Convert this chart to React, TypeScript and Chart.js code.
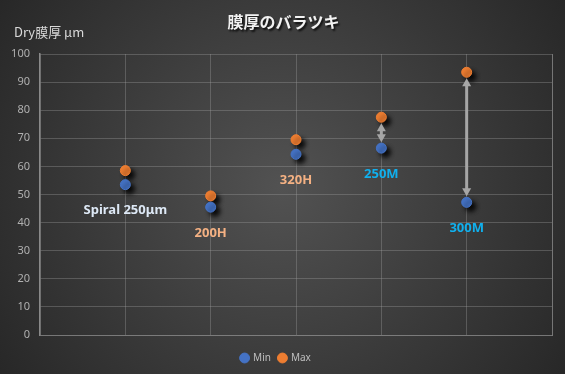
import React, { useEffect, useRef } from "react";
import { Chart, registerables } from "chart.js";

Chart.register(...registerables);

const xPositions = [1, 2, 3, 4, 5];
const minValues = [53.5, 45.5, 64.3, 66.5, 47.2];
const maxValues = [58.5, 49.5, 69.5, 77.5, 93.5];
const pointLabels = ["Spiral 250μm", "200H", "320H", "250M", "300M"];
const labelColors = ["#dde8f5", "#f4b183", "#f4b183", "#10b0ee", "#10b0ee"];
const arrowIndices = [3, 4];
const yTicks = [0, 10, 20, 30, 40, 50, 60, 70, 80, 90, 100];
const chartTitle = "膜厚のバラツキ";
const yAxisTitle = "Dry膜厚 μm";

const bgPlugin = {
  id: "bg",
  beforeDraw(chart: any) {
    const { ctx, width, height } = chart;
    ctx.save();
    const g = ctx.createRadialGradient(width * 0.5, height * 0.5, 0, width * 0.5, height * 0.5, width * 0.62);
    g.addColorStop(0, "#525252");
    g.addColorStop(1, "#262626");
    ctx.fillStyle = g;
    ctx.fillRect(0, 0, width, height);
    // title
    ctx.font = "bold 16px 'Noto Sans CJK JP'";
    ctx.textAlign = "center";
    ctx.textBaseline = "middle";
    ctx.shadowColor = "rgba(0,0,0,0.8)";
    ctx.shadowOffsetX = 1.5;
    ctx.shadowOffsetY = 1.5;
    ctx.shadowBlur = 2;
    ctx.fillStyle = "#f2f2f2";
    ctx.fillText(chartTitle, width / 2 + 1, 22);
    ctx.shadowColor = "transparent";
    ctx.font = "13px 'Noto Sans CJK JP'";
    ctx.textAlign = "left";
    ctx.fillStyle = "#d9d9d9";
    ctx.fillText(yAxisTitle, 14, 32);
    ctx.restore();
  },
};

const shadowPlugin = {
  id: "ptshadow",
  beforeDatasetDraw(chart: any) {
    const ctx = chart.ctx;
    ctx.save();
    ctx.shadowColor = "rgba(0,0,0,0.85)";
    ctx.shadowOffsetX = 4;
    ctx.shadowOffsetY = 4;
    ctx.shadowBlur = 4;
  },
  afterDatasetDraw(chart: any) {
    chart.ctx.restore();
  },
};

const overlayPlugin = {
  id: "overlay",
  afterDatasetsDraw(chart: any) {
    const { ctx } = chart;
    const xs = chart.scales.x;
    const ys = chart.scales.y;
    ctx.save();
    // arrows
    arrowIndices.forEach((i) => {
      const x = xs.getPixelForValue(xPositions[i]);
      const yTop = ys.getPixelForValue(maxValues[i]) + 6;
      const yBot = ys.getPixelForValue(minValues[i]) - 6;
      const head = 8;
      ctx.strokeStyle = "#a6a6a6";
      ctx.fillStyle = "#a6a6a6";
      ctx.lineWidth = 3;
      ctx.beginPath();
      ctx.moveTo(x, yTop + head - 1);
      ctx.lineTo(x, yBot - head + 1);
      ctx.stroke();
      ctx.beginPath();
      ctx.moveTo(x, yTop);
      ctx.lineTo(x - 4.5, yTop + head);
      ctx.lineTo(x + 4.5, yTop + head);
      ctx.closePath();
      ctx.fill();
      ctx.beginPath();
      ctx.moveTo(x, yBot);
      ctx.lineTo(x - 4.5, yBot - head);
      ctx.lineTo(x + 4.5, yBot - head);
      ctx.closePath();
      ctx.fill();
    });
    // labels
    ctx.font = "bold 13px 'Noto Sans'";
    ctx.textAlign = "center";
    ctx.textBaseline = "middle";
    pointLabels.forEach((t, i) => {
      const x = xs.getPixelForValue(xPositions[i]);
      const y = ys.getPixelForValue(minValues[i]) + 26;
      ctx.fillStyle = labelColors[i];
      ctx.fillText(t, x, y);
    });
    ctx.restore();
  },
};

export default function App() {
  const ref = useRef<HTMLCanvasElement>(null);
  useEffect(() => {
    document.body.style.margin = "0";
    const chart = new Chart(ref.current!, {
      type: "scatter",
      data: {
        datasets: [
          {
            label: "Min",
            data: xPositions.map((x, i) => ({ x, y: minValues[i] })),
            backgroundColor: "#4472c4",
            borderColor: "#4472c4",
            pointRadius: 5,
            pointHoverRadius: 5,
          },
          {
            label: "Max",
            data: xPositions.map((x, i) => ({ x, y: maxValues[i] })),
            backgroundColor: "#ed7d31",
            borderColor: "#ed7d31",
            pointRadius: 5,
            pointHoverRadius: 5,
          },
        ],
      },
      options: {
        animation: false,
        responsive: false,
        layout: { padding: { top: 54, left: 0, right: 13, bottom: 1 } },
        scales: {
          x: {
            type: "linear",
            min: 0,
            max: 6,
            ticks: { display: false, stepSize: 1 },
            grid: { color: "rgba(160,160,160,0.35)", drawTicks: false },
            border: { display: true, color: "rgba(160,160,160,0.45)" },
            afterFit: (s: any) => { s.height = 10; },
          },
          y: {
            min: 0,
            max: 100,
            afterBuildTicks: (s: any) => { s.ticks = yTicks.map((v) => ({ value: v })); },
            ticks: { color: "#b0b0b0", font: { size: 11, family: "'Noto Sans'" }, padding: 10 },
            grid: { color: "rgba(160,160,160,0.35)", drawTicks: false },
            border: { display: true, color: "#8a8a8a", width: 1.5 },
            afterFit: (s: any) => { s.width = 40; },
          },
          y2: {
            position: "right",
            min: 0,
            max: 100,
            ticks: { display: false },
            grid: { display: false, drawTicks: false },
            border: { display: true, color: "rgba(160,160,160,0.45)" },
            afterFit: (s: any) => { s.width = 0; },
          },
        },
        plugins: {
          legend: {
            position: "bottom",
            labels: {
              usePointStyle: true,
              pointStyle: "circle",
              boxWidth: 7,
              boxHeight: 7,
              padding: 8,
              color: "#bfbfbf",
              font: { size: 10, family: "'Noto Sans'" },
            },
          },
          tooltip: { enabled: false },
        },
      },
      plugins: [bgPlugin, shadowPlugin, overlayPlugin],
    } as any);
    return () => chart.destroy();
  }, []);
  return <canvas ref={ref} width={565} height={374} style={{ display: "block" }} />;
}
